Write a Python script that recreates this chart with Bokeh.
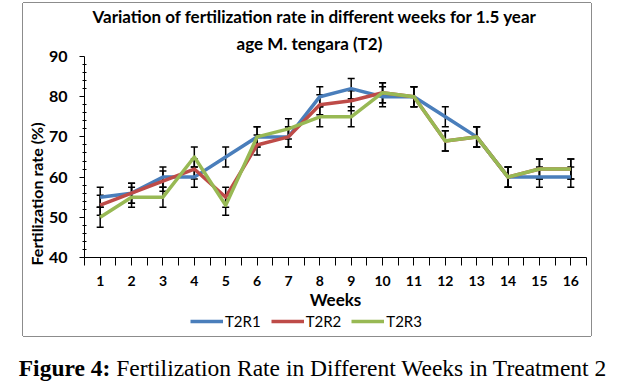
from bokeh.plotting import figure
from bokeh.models import (ColumnDataSource, Whisker, FixedTicker, Legend, LegendItem,
                          Title, Div, TeeHead, Range1d)
from bokeh.layouts import column
from bokeh.embed import file_html
from bokeh.resources import INLINE

weeks = [1, 2, 3, 4, 5, 6, 7, 8, 9, 10, 11, 12, 13, 14, 15, 16]
week_labels = ["1", "2", "3", "4", "5", "6", "7", "8", "9", "10", "11", "12", "13", "14", "15", "16"]
t2r1 = [55, 56, 60, 60, 65, 70, 70, 80, 82, 80, 80, 75, 70, 60, 60, 60]
t2r2 = [53, 56, 59, 62, 55, 68, 70, 78, 79, 81, 80, 69, 70, 60, 62, 62]
t2r3 = [50, 55, 55, 65, 53, 70, 72, 75, 75, 81, 80, 69, 70, 60, 62, 62]
err_r1 = [2.5, 2.5, 2.5, 2.5, 2.5, 2.5, 2.5, 2.5, 2.5, 2.5, 2.5, 2.5, 2.5, 2.5, 2.5, 2.5]
err_r2 = [2.5, 2.5, 2.5, 2.5, 2.5, 2.5, 2.5, 2.5, 2.5, 2.5, 2.5, 2.5, 2.5, 2.5, 2.5, 2.5]
err_r3 = [2.5, 2.5, 2.5, 2.5, 2.5, 2.5, 2.5, 2.5, 2.5, 2.5, 2.5, 2.5, 2.5, 2.5, 2.5, 2.5]
series_names = ["T2R1", "T2R2", "T2R3"]
series_colors = ["#4A7EBB", "#BE4B48", "#98B954"]
series_values = [t2r1, t2r2, t2r3]
series_errors = [err_r1, err_r2, err_r3]
y_ticks = [40, 50, 60, 70, 80, 90]
y_minor = [42, 44, 46, 48, 52, 54, 56, 58, 62, 64, 66, 68, 72, 74, 76, 78, 82, 84, 86, 88]

FONT = "Lato"
BOX = "#8c8c8c"

# ---- main chart ----
p = figure(width=568, height=309, output_backend="svg", toolbar_location=None,
           x_range=Range1d(0.5, 16.5), y_range=Range1d(40, 90),
           min_border_left=61, min_border_right=5, min_border_top=53, min_border_bottom=55)
p.margin = (3, 0, 0, 23)
p.styles = {"box-shadow": f"-1px 0 0 {BOX}, 1px 0 0 {BOX}, 0 -1px 0 {BOX}"}
p.outline_line_color = None
p.xgrid.visible = False
p.ygrid.visible = False
p.background_fill_color = "white"
p.border_fill_color = "white"

t_line2 = Title(text="age M. tengara (T2)", align="left", offset=152, standoff=6,
                text_font=FONT, text_font_size="17px", text_font_style="bold", text_color="black")
t_line1 = Title(text="Variation of fertilization rate in different weeks for 1.5 year",
                align="left", offset=8, standoff=1,
                text_font=FONT, text_font_size="17px", text_font_style="bold", text_color="black")
p.add_layout(t_line2, "above")
p.add_layout(t_line1, "above")

xa = p.xaxis[0]
xa.ticker = FixedTicker(ticks=weeks, minor_ticks=[w - 0.5 for w in weeks] + [16.5])
xa.major_label_overrides = {w: s for w, s in zip(weeks, week_labels)}
xa.major_tick_in = 0
xa.major_tick_out = 8
xa.minor_tick_in = 0
xa.minor_tick_out = 8
xa.major_label_standoff = 10
xa.major_label_text_font = FONT
xa.major_label_text_font_style = "bold"
xa.major_label_text_font_size = "14px"
xa.major_label_text_color = "black"
xa.axis_label = "Weeks"
xa.axis_label_text_font = FONT
xa.axis_label_text_font_style = "bold"
xa.axis_label_text_font_size = "17px"
xa.axis_label_text_color = "black"
xa.axis_label_standoff = 0
xa.axis_line_color = "black"
xa.major_tick_line_color = "black"
xa.minor_tick_line_color = "black"

ya = p.yaxis[0]
ya.ticker = FixedTicker(ticks=y_ticks, minor_ticks=y_minor)
ya.major_tick_in = 0
ya.major_tick_out = 5
ya.minor_tick_in = 2
ya.minor_tick_out = 2
ya.major_label_standoff = 12
ya.major_label_text_font = FONT
ya.major_label_text_font_style = "bold"
ya.major_label_text_font_size = "16px"
ya.major_label_text_color = "black"
ya.axis_line_color = "black"
ya.major_tick_line_color = "black"
ya.minor_tick_line_color = "black"

ytitle = Title(text="Fertilization rate (%)", align="left", offset=-8, standoff=0,
               text_font=FONT, text_font_size="16px", text_font_style="bold", text_color="black")
p.add_layout(ytitle, "left")

for name, vals, errs, color in zip(series_names, series_values, series_errors, series_colors):
    src = ColumnDataSource(dict(x=weeks, y=vals,
                                upper=[v + e for v, e in zip(vals, errs)],
                                lower=[v - e for v, e in zip(vals, errs)]))
    p.line("x", "y", source=src, line_color=color, line_width=3.5, line_join="round")
    w = Whisker(base="x", upper="upper", lower="lower", source=src,
                line_color="black", line_width=1.5,
                upper_head=TeeHead(size=7, line_color="black", line_width=1.5),
                lower_head=TeeHead(size=7, line_color="black", line_width=1.5))
    p.add_layout(w)

# ---- legend strip (bottom of the same box) ----
pl = figure(width=568, height=24, output_backend="svg", toolbar_location=None,
            x_range=Range1d(100, 101), y_range=Range1d(0, 1),
            x_axis_type=None, y_axis_type=None, min_border=0,
            min_border_left=0, min_border_right=0, min_border_top=0, min_border_bottom=0)
pl.margin = (0, 0, 0, 23)
pl.styles = {"box-shadow": f"-1px 0 0 {BOX}, 1px 0 0 {BOX}, 0 1px 0 {BOX}"}
pl.outline_line_color = None
pl.xgrid.visible = False
pl.ygrid.visible = False
pl.background_fill_color = "white"
pl.border_fill_color = "white"
items = []
for name, vals, color in zip(series_names, series_values, series_colors):
    # same series, outside this strip's view: only its legend swatch shows
    r = pl.line(x=weeks, y=vals, line_color=color, line_width=3.5)
    items.append(LegendItem(label=name, renderers=[r]))
legend = Legend(items=items, orientation="horizontal", location=(106, 6),
                label_text_font=FONT, label_text_font_size="15px", label_text_color="black",
                glyph_width=33, glyph_height=16, label_standoff=2, spacing=10,
                padding=0, margin=0, border_line_color=None, background_fill_alpha=0)
pl.add_layout(legend, "center")

caption = Div(text='<div style="width:615px; margin-top:13px; white-space:nowrap; text-align:center; '
                   'font-family:\'Liberation Serif\'; font-size:23.5px; line-height:28px; color:black;">'
                   '<b>Figure 4:</b> Fertilization Rate in Different Weeks in Treatment 2</div>',
              width=615, height=45)

layout = column(p, pl, caption, spacing=0)
open("out.html", "w").write(file_html(layout, INLINE))
